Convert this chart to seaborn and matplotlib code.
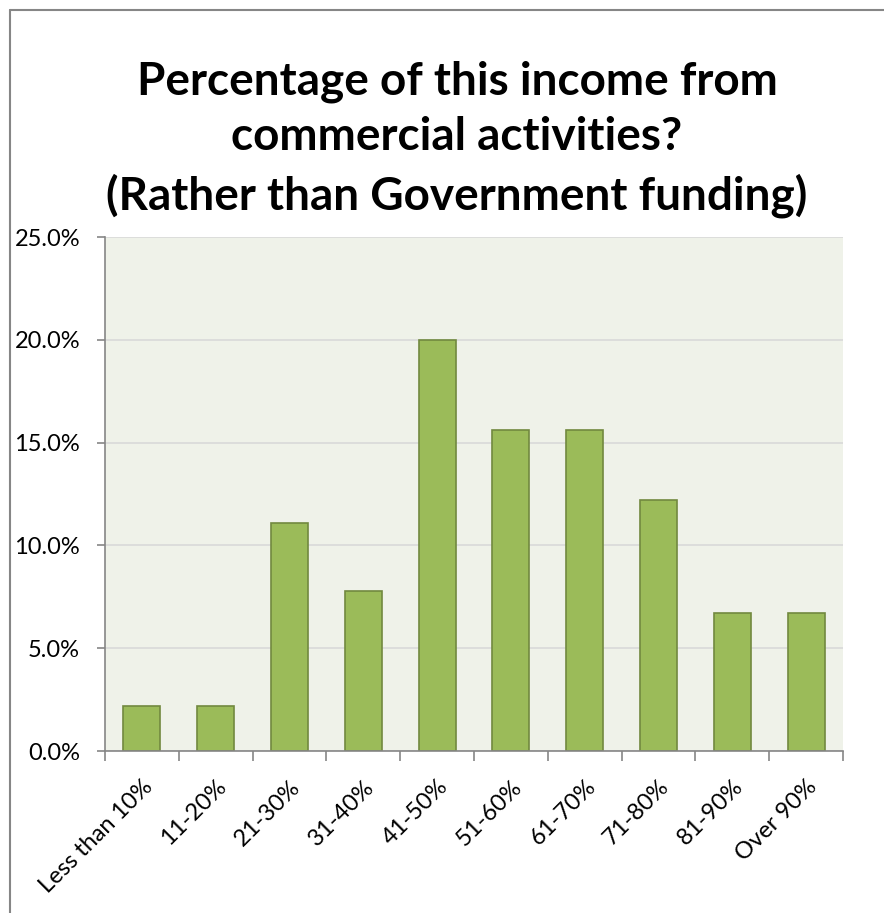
import matplotlib
matplotlib.use("Agg")
import matplotlib.pyplot as plt
import seaborn as sns
import pandas as pd
from matplotlib.lines import Line2D
from matplotlib.ticker import FuncFormatter, MultipleLocator

categories = ["Less than 10%", "11-20%", "21-30%", "31-40%", "41-50%",
              "51-60%", "61-70%", "71-80%", "81-90%", "Over 90%"]
values = [2.2, 2.2, 11.1, 7.8, 20.0, 15.6, 15.6, 12.2, 6.7, 6.7]
title = "Percentage of this income from\ncommercial activities?\n(Rather than Government funding)"

df = pd.DataFrame({"cat": categories, "val": values})

sns.set_theme(style="white")
plt.rcParams["font.family"] = ["Lato", "DejaVu Sans"]

fig = plt.figure(figsize=(8.84, 9.13), dpi=100)
W, H = 884, 913
ax = fig.add_axes([105 / W, 1 - 751 / H, (843 - 105) / W, (751 - 237) / H])

sns.barplot(data=df, x="cat", y="val", ax=ax, color="#9BBB59", width=0.5,
            edgecolor="#71893F", linewidth=1.2, saturation=1)

ax.set_facecolor("#EFF2E9")
ax.set_ylim(0, 25)
ax.set_xlim(-0.5, len(categories) - 0.5)
ax.yaxis.set_major_locator(MultipleLocator(5))
ax.yaxis.set_major_formatter(FuncFormatter(lambda v, p: f"{v:.1f}%"))
ax.grid(axis="y", color="#D9D9D9", linewidth=1.2)
ax.set_axisbelow(True)
for s in ["top", "right"]:
    ax.spines[s].set_visible(False)
for s in ["left", "bottom"]:
    ax.spines[s].set_color("#868686")
    ax.spines[s].set_linewidth(1.2)

ax.set_xlabel("")
ax.set_ylabel("")
ax.tick_params(axis="y", which="major", length=6, width=1.2, color="#868686",
               left=True, labelsize=17, pad=12, labelcolor="black")
ax.set_xticks(range(len(categories)))
ax.set_xticklabels(categories, rotation=45, ha="right", rotation_mode="anchor",
                   fontsize=17)
ax.tick_params(axis="x", which="major", length=0, pad=18, labelcolor="black")
ax.set_xticks([i - 0.5 for i in range(len(categories) + 1)], minor=True)
ax.tick_params(axis="x", which="minor", length=7, width=1.2, color="#868686",
               bottom=True)

fig.text(0.517, 1 - 139 / H, title, ha="center", va="center", fontsize=33,
         fontweight="bold", linespacing=1.4, color="black")

# chart border
fig.add_artist(Line2D([10 / W, 10 / W], [0, 1 - 10 / H], transform=fig.transFigure,
                      color="#868686", linewidth=1.5))
fig.add_artist(Line2D([10 / W, 1], [1 - 10 / H, 1 - 10 / H], transform=fig.transFigure,
                      color="#868686", linewidth=1.5))

fig.savefig("out.png", dpi=100, facecolor="white")
